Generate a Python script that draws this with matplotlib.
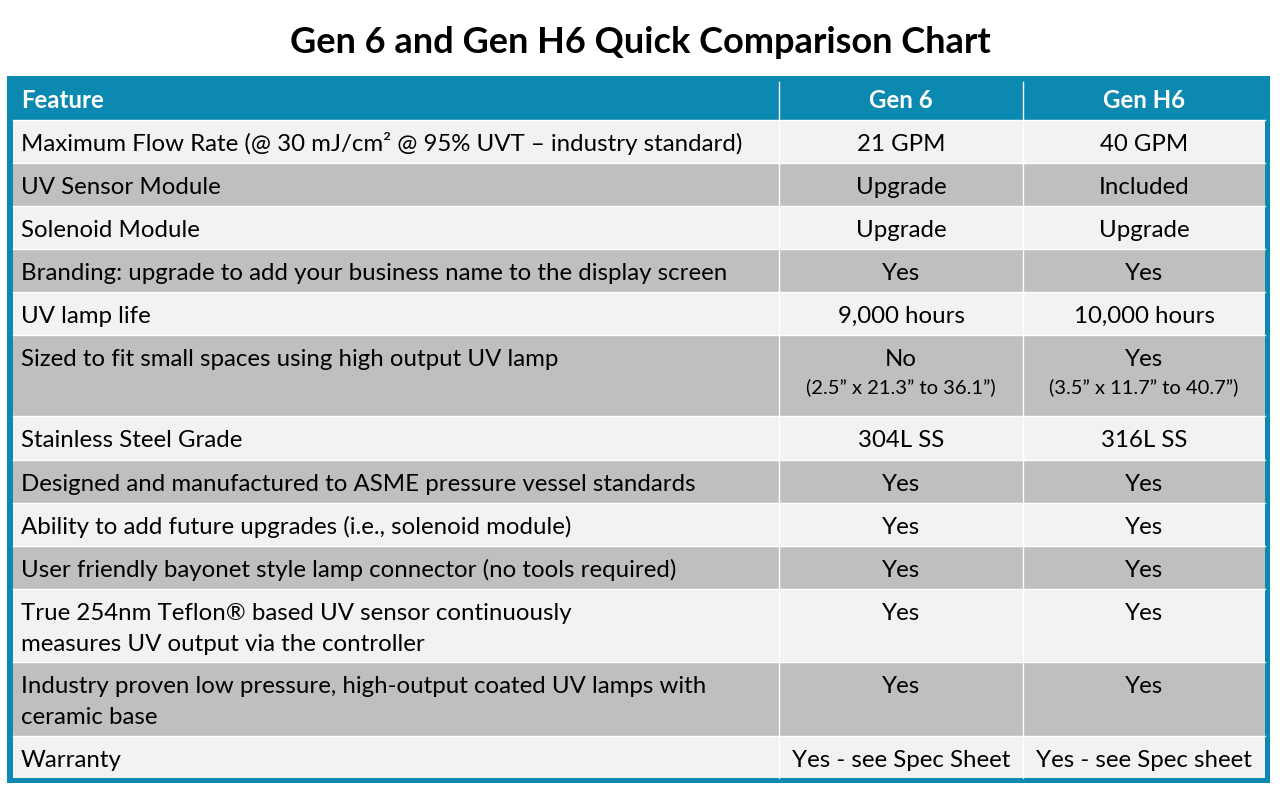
import matplotlib
matplotlib.use("Agg")
import matplotlib.pyplot as plt
from matplotlib.patches import Rectangle

title = "Gen 6 and Gen H6 Quick Comparison Chart"
headers = ["Feature", "Gen 6", "Gen H6"]
features = [
    "Maximum Flow Rate (@ 30 mJ/cm² @ 95% UVT – industry standard)",
    "UV Sensor Module",
    "Solenoid Module",
    "Branding: upgrade to add your business name to the display screen",
    "UV lamp life",
    "Sized to fit small spaces using high output UV lamp",
    "Stainless Steel Grade",
    "Designed and manufactured to ASME pressure vessel standards",
    "Ability to add future upgrades (i.e., solenoid module)",
    "User friendly bayonet style lamp connector (no tools required)",
    "True 254nm Teflon® based UV sensor continuously\nmeasures UV output via the controller",
    "Industry proven low pressure, high-output coated UV lamps with\nceramic base",
    "Warranty",
]
gen6 = ["21 GPM", "Upgrade", "Upgrade", "Yes", "9,000 hours", "No", "304L SS",
        "Yes", "Yes", "Yes", "Yes", "Yes", "Yes - see Spec Sheet"]
genh6 = ["40 GPM", "Included", "Upgrade", "Yes", "10,000 hours", "Yes", "316L SS",
         "Yes", "Yes", "Yes", "Yes", "Yes", "Yes - see Spec sheet"]
gen6_sub = ["", "", "", "", "", "(2.5” x 21.3” to 36.1”)", "", "", "", "", "", "", ""]
genh6_sub = ["", "", "", "", "", "(3.5” x 11.7” to 40.7”)", "", "", "", "", "", "", ""]

# layout (pixels)
W, H = 1280, 794
row_h = [43, 43, 43, 43, 43, 81, 44, 43, 43, 43, 73, 74, 42]
x0, x1, x2, x3 = 13, 779, 1023, 1265
teal = "#0b89b0"
light, dark = "#f2f2f2", "#bfbfbf"
FONT = "Lato"
fs = 17.3

fig = plt.figure(figsize=(W / 100, H / 100), dpi=100)
ax = fig.add_axes([0, 0, 1, 1])
ax.set_xlim(0, W)
ax.set_ylim(H, 0)
ax.axis("off")

ax.text(W / 2, 53, title, ha="center", va="baseline", fontsize=26,
        fontweight="bold", family=FONT, color="black")

ax.add_patch(Rectangle((7, 76), 1263, 707, color=teal, lw=0))
ax.add_patch(Rectangle((x0, 82), x3 - x0, 38, color=teal, lw=0))
hy = 108
for txt, xx, ha in ((headers[0], x0 + 8, "left"), (headers[1], (x1 + x2) / 2, "center"),
                    (headers[2], (x2 + x3) / 2, "center")):
    ax.text(xx, hy, txt, ha=ha, va="baseline", color="white",
            fontweight="bold", fontsize=fs, family=FONT)

y = 120
for i, h in enumerate(row_h):
    c = light if i % 2 == 0 else dark
    ax.add_patch(Rectangle((x0, y), x3 - x0, h, color=c, lw=0))
    by = y + 31
    for k, line in enumerate(features[i].split("\n")):
        ax.text(x0 + 8, by + 31 * k, line, ha="left", va="baseline", fontsize=fs,
                family=FONT, color="black")
    ax.text((x1 + x2) / 2, by, gen6[i], ha="center", va="baseline", fontsize=fs,
            family=FONT, color="black")
    ax.text((x2 + x3) / 2, by, genh6[i], ha="center", va="baseline", fontsize=fs,
            family=FONT, color="black")
    if gen6_sub[i]:
        ax.text((x1 + x2) / 2, by + 27, gen6_sub[i], ha="center", va="baseline",
                fontsize=14.5, family=FONT, color="black")
    if genh6_sub[i]:
        ax.text((x2 + x3) / 2, by + 27, genh6_sub[i], ha="center", va="baseline",
                fontsize=14.5, family=FONT, color="black")
    ax.plot([x0, x3], [y, y], color="white", lw=1)
    y += h

for xv in (x1, x2):
    ax.plot([xv, xv], [82, y], color="white", lw=1)

fig.savefig("out.png", dpi=100)
